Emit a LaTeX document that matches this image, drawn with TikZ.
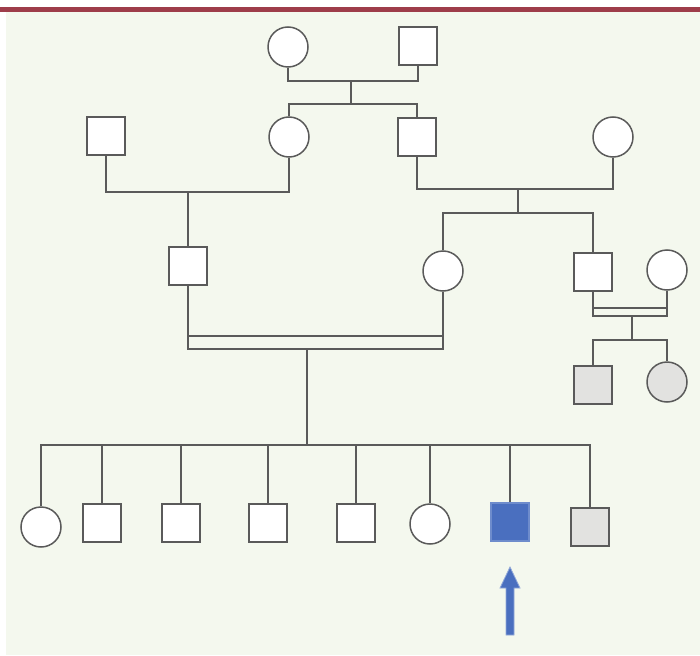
\documentclass[tikz,border=0pt]{standalone}
\usetikzlibrary{calc}
\definecolor{bgpanel}{HTML}{F4F8EE}
\definecolor{topbar}{HTML}{9E3D4A}
\definecolor{ink}{HTML}{5A5A5A}
\definecolor{affblue}{HTML}{4A6FBF}
\definecolor{carrier}{HTML}{E2E2E0}
\begin{document}
\begin{tikzpicture}[x=1pt,y=-1pt,
  male/.style={draw=ink,line width=1.5pt,fill=white,rectangle,minimum size=38pt,inner sep=0pt},
  female/.style={draw=ink,line width=1.5pt,fill=white,circle,minimum size=40pt,inner sep=0pt},
  shaded/.style={fill=carrier},
  proband/.style={fill=affblue,draw=affblue!80!white},
  link/.style={draw=ink,line width=1.5pt}]
% page and panel
\useasboundingbox (0,0) rectangle (700,655);
\fill[white] (0,0) rectangle (700,655);
\fill[bgpanel] (6,12) rectangle (700,655);
\fill[topbar] (0,7) rectangle (700,12.5);

% generation I
\node[female] (f1) at (288,47) {};
\node[male]   (m1) at (418,46) {};
% generation II
\node[male]   (m2) at (106,136) {};
\node[female] (f2) at (289,137) {};
\node[male]   (m3) at (417,137) {};
\node[female] (f3) at (613,137) {};
% generation III
\node[male]   (m4) at (188,266) {};
\node[female] (f4) at (443,271) {};
\node[male]   (m5) at (593,272) {};
\node[female] (f5) at (667,270) {};
\node[male,shaded]   (m6) at (593,385) {};
\node[female,shaded] (f6) at (667,382) {};
% generation IV
\node[female] (c1) at (41,527) {};
\node[male]   (c2) at (102,523) {};
\node[male]   (c3) at (181,523) {};
\node[male]   (c4) at (268,523) {};
\node[male]   (c5) at (356,523) {};
\node[female] (c6) at (430,524) {};
\node[male,proband] (c7) at (510,522) {};
\node[male,shaded]  (c8) at (590,527) {};

% junction points
\coordinate (j1) at (351,81);
\coordinate (s1) at (351,104);
\coordinate (j2) at (188,192);
\coordinate (j3) at (518,189);
\coordinate (s3) at (518,213);
\coordinate (j4) at (632,316);
\coordinate (s4) at (632,340);
\coordinate (j5) at (307,349);
\coordinate (s5) at (307,445);

% I: couple and offspring
\draw[link] (f1.south) |- (j1) -| (m1.south);
\draw[link] (j1) -- (s1);
\draw[link] (f2.north) |- (s1) -| (m3.north);
% II: left couple
\draw[link] (m2.south) |- (j2) -| (f2.south);
\draw[link] (j2) -- (m4.north);
% II: right couple
\draw[link] (m3.south) |- (j3) -| (f3.south);
\draw[link] (j3) -- (s3);
\draw[link] (f4.north) |- (s3) -| (m5.north);
% III: consanguineous couple (double line)
\draw[link] (m4.south) |- (j5) -| (f4.south);
\draw[link] (m4.south |- 0,336) -- (f4.south |- 0,336);
\draw[link] (j5) -- (s5);
% III: right consanguineous couple
\draw[link] (m5.south) |- (j4) -| (f5.south);
\draw[link] (m5.south |- 0,308) -- (f5.south |- 0,308);
\draw[link] (j4) -- (s4);
\draw[link] (m6.north) |- (s4) -| (f6.north);
% IV: sibship
\draw[link] (c1.north) |- (s5) -| (c8.north);
\foreach \c in {c2,c3,c4,c5,c6,c7}
  \draw[link] (\c.north) -- (\c.north |- s5);

% proband arrow
\coordinate (tip) at (510,567);
\fill[affblue,draw=affblue!60!white,line width=0.8pt]
  (tip) -- ++(10,21) -- ++(-6,0) -- ++(0,47) -- ++(-8,0) -- ++(0,-47) -- ++(-6,0) -- cycle;
\end{tikzpicture}
\end{document}
